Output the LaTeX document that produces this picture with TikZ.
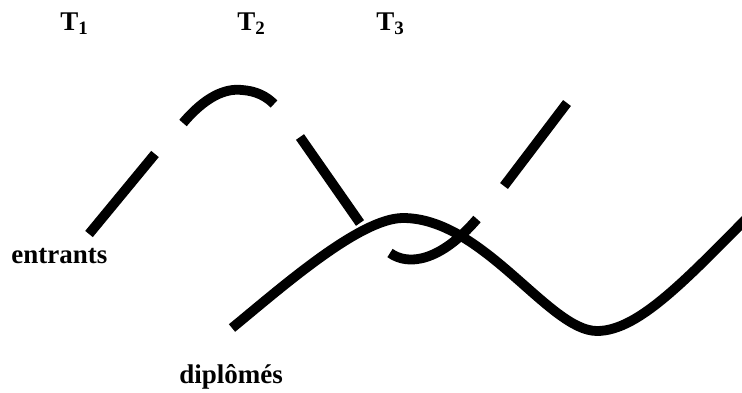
\documentclass[tikz,border=0pt]{standalone}
\usepackage{fontspec}
\setmainfont{Liberation Serif}
\usetikzlibrary{positioning}

\begin{document}
\begin{tikzpicture}[
	x=0.5pt, y=-0.5pt,
	strand/.style={line width=4.9pt},
	tag/.style={font=\fontsize{13.5}{15}\selectfont\bfseries, inner sep=0pt, anchor=base west}
	]
	\useasboundingbox (0,0) rectangle (742,392);
	\clip (0,0) rectangle (742,392);
	
	% Periods
	\node[tag] (t1) at (60,30) {T\textsubscript{1}};
	\node[tag] (t2) at (237,30) {T\textsubscript{2}};
	\node[tag] (t3) at (376,30) {T\textsubscript{3}};
	
	% Flows
	\node[tag] (entrants) at (11,263) {entrants};
	\node[tag] (diplomes) at (179,383) {diplômés};
	
	% Entrants curve (broken)
	\draw[strand] (89,234) -- (155,154);
	\draw[strand] (183,123) .. controls (205,97) and (225,88) .. (242,90)
		.. controls (256,91) and (266,96) .. (274,104);
	\draw[strand] (300,137) -- (360,223);
	\draw[strand] (390,253) .. controls (408,266) and (440,262) .. (477,219);
	\draw[strand] (504,186) -- (567,103);
	
	% Graduates curve
	\draw[strand] (232,328) .. controls (282,287) and (360,218) .. (403,218)
		.. controls (483,218) and (549,331) .. (597,331)
		.. controls (640,331) and (690,275) .. (760,205);
	
\end{tikzpicture}
\end{document}
